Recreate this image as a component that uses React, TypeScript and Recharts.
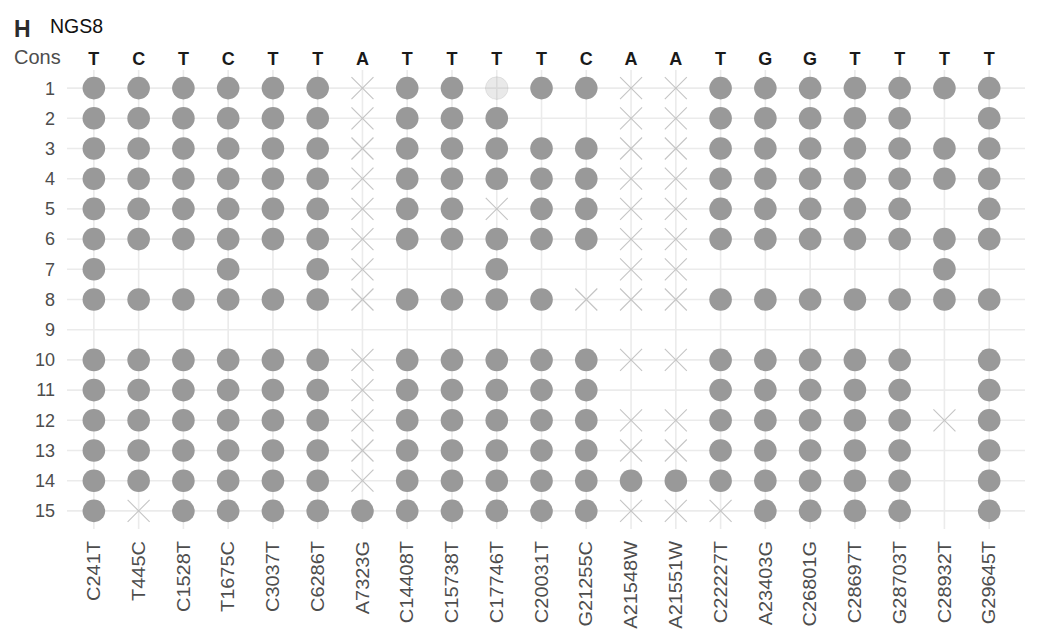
import { CartesianGrid, Scatter, ScatterChart, XAxis, YAxis } from 'recharts';

const mutations = [
  'C241T', 'T445C', 'C1528T', 'T1675C', 'C3037T', 'C6286T', 'A7323G', 'C14408T', 'C15738T', 'C17746T', 'C20031T',
  'G21255C', 'A21548W', 'A21551W', 'C22227T', 'A23403G', 'C26801G', 'C28697T', 'G28703T', 'C28932T', 'G29645T'
];

const consensus = ['T', 'C', 'T', 'C', 'T', 'T', 'A', 'T', 'T', 'T', 'T', 'C', 'A', 'A', 'T', 'G', 'G', 'T', 'T', 'T', 'T'];

const samples = [1, 2, 3, 4, 5, 6, 7, 8, 9, 10, 11, 12, 13, 14, 15];

// one string per sample, one char per mutation:
// o = variant called, x = not matching, l = low coverage, . = no read
const calls = [
  'ooooooxoolooxxooooooo',
  'ooooooxooo..xxooooo.o',
  'ooooooxoooooxxooooooo',
  'ooooooxoooooxxooooooo',
  'ooooooxooxooxxooooo.o',
  'ooooooxoooooxxooooooo',
  'o..o.ox..o..xx.....o.',
  'ooooooxooooxxxooooooo',
  '.....................',
  'ooooooxoooooxxooooo.o',
  'ooooooxooooo..ooooo.o',
  'ooooooxoooooxxoooooxo',
  'ooooooxoooooxxooooo.o',
  'ooooooxoooooooooooo.o',
  'oxooooooooooxxxoooo.o'
];

type Cell = { col: number; sample: number };

function cellsFor(code: string): Cell[] {
  const out: Cell[] = [];
  calls.forEach((row, i) => {
    row.split('').forEach((ch, col) => {
      if (ch === code) out.push({ col, sample: samples[i] });
    });
  });
  return out;
}

const called = cellsFor('o');
const mismatched = cellsFor('x');
const lowCov = cellsFor('l');
// anchors the top (consensus) axis so it gets a scale
const consRow = consensus.map((base, col) => ({ col, sample: samples[0], base }));

const colIndex = mutations.map((_, i) => i);
const xDomain: [number, number] = [-0.6, 20.8];
const yDomain: [number, number] = [0.4, 15.6];
const font = '"Liberation Sans", Arial, Helvetica, sans-serif';

const DotShape = (props: any) => <circle cx={props.cx} cy={props.cy} r={11.3} fill="#999999" />;

const LowShape = (props: any) => (
  <circle cx={props.cx} cy={props.cy} r={11.3} fill="#999999" fillOpacity={0.22} stroke="#999999" strokeOpacity={0.2} />
);

const CrossShape = (props: any) => {
  const { cx, cy } = props;
  const s = 11;
  return (
    <g stroke="#c4c4c4" strokeWidth={1.1}>
      <line x1={cx - s} y1={cy - s} x2={cx + s} y2={cy + s} />
      <line x1={cx - s} y1={cy + s} x2={cx + s} y2={cy - s} />
    </g>
  );
};

const NoShape = () => <g />;

const ConsTick = ({ x, y, payload }: any) => (
  <text x={x} y={y - 5.5} textAnchor="middle" fontSize={18} fontWeight="bold" fill="#1a1a1a">
    {consensus[payload.value]}
  </text>
);

const MutationTick = ({ x, y, payload }: any) => (
  <text
    transform={`translate(${x}, ${y}) rotate(-90) scale(1.11, 1)`}
    textAnchor="end"
    dominantBaseline="central"
    fontSize={18}
    fill="#4d4d4d"
  >
    {mutations[payload.value]}
  </text>
);

export default function App() {
  return (
    <div style={{ position: 'absolute', left: 0, top: 0, width: 1037, height: 635, background: '#fff', fontFamily: font }}>
      <ScatterChart width={1037} height={635} margin={{ top: 0, right: 12, bottom: 0, left: 0 }}>
        <CartesianGrid stroke="#ebebeb" strokeWidth={1.6} syncWithTicks />
        <XAxis
          xAxisId={0}
          dataKey="col"
          type="number"
          domain={xDomain}
          allowDataOverflow
          ticks={colIndex}
          interval={0}
          height={106}
          axisLine={false}
          tickLine={false}
          tickSize={0}
          tickMargin={12}
          tick={<MutationTick />}
        />
        <XAxis
          xAxisId="cons"
          dataKey="col"
          orientation="top"
          type="number"
          domain={xDomain}
          allowDataOverflow
          ticks={colIndex}
          interval={0}
          height={70}
          axisLine={false}
          tickLine={false}
          tickSize={0}
          tickMargin={0}
          tick={<ConsTick />}
        />
        <YAxis
          dataKey="sample"
          type="number"
          domain={yDomain}
          allowDataOverflow
          reversed
          ticks={samples}
          interval={0}
          width={67}
          axisLine={false}
          tickLine={false}
          tickSize={0}
          tickMargin={12}
          tick={{ fontSize: 18, fill: '#4d4d4d' }}
        />
        <Scatter data={called} shape={DotShape} isAnimationActive={false} />
        <Scatter data={mismatched} shape={CrossShape} isAnimationActive={false} />
        <Scatter data={lowCov} shape={LowShape} isAnimationActive={false} />
        <Scatter xAxisId="cons" data={consRow} shape={NoShape} isAnimationActive={false} />
      </ScatterChart>
      <div style={{ position: 'absolute', left: 14, top: 16, fontSize: 23, fontWeight: 'bold', color: '#2b2b2b' }}>H</div>
      <div style={{ position: 'absolute', left: 50, top: 15, fontSize: 19.5, color: '#111' }}>NGS8</div>
      <div style={{ position: 'absolute', left: 14, top: 46, fontSize: 20, color: '#4d4d4d' }}>Cons</div>
    </div>
  );
}
